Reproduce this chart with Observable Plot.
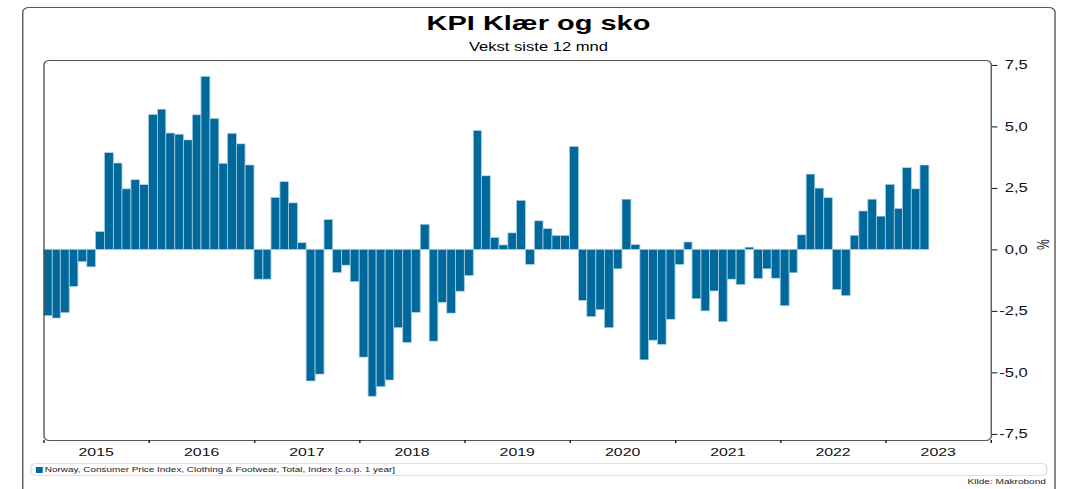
<!DOCTYPE html>
<html>
<head>
<meta charset="utf-8">
<script src="https://cdn.jsdelivr.net/npm/d3@7"></script>
<script src="https://cdn.jsdelivr.net/npm/@observablehq/plot@0.6"></script>
<style>
  html, body { margin: 0; padding: 0; background: #fff; overflow: hidden; }
  #wrap {
    position: relative; width: 772.5px; height: 489px;
    transform: scaleX(1.38); transform-origin: 0 0;
    font-family: "Liberation Sans", Arial, sans-serif; color: #000;
  }
  #outer {
    position: absolute; left: 15.7px; top: 6.5px; width: 749px; height: 600px;
    border: 1px solid #555; border-radius: 5px; box-sizing: border-box;
  }
  #title {
    position: absolute; left: 15.7px; width: 749px; top: 12.2px; text-align: center;
    font-weight: bold; font-size: 21px; line-height: 21px;
  }
  #subtitle {
    position: absolute; left: 15.7px; width: 749px; top: 40.8px; text-align: center;
    font-size: 12px; line-height: 12px;
  }
  #chart { position: absolute; left: 0; top: 0; }
  #legend {
    position: absolute; left: 21.7px; top: 463px; width: 737.7px; height: 13px;
    border: 1px solid #cfe6ef; border-radius: 4px; box-sizing: border-box;
    font-size: 7.2px; line-height: 11px; white-space: nowrap;
  }
  #legend .sw {
    position: absolute; left: 3.4px; top: 2.5px; width: 4.6px; height: 6.5px; background: #00689a;
  }
  #legend .lt { position: absolute; left: 9.8px; top: 0.3px; color: #222; }
  #source {
    position: absolute; right: 14.6px; top: 478px; font-size: 7.3px; line-height: 8px; color: #222;
  }
</style>
</head>
<body>
<div id="wrap">
  <div id="outer"></div>
  <div id="chart"></div>
  <div id="title">KPI Klær og sko</div>
  <div id="subtitle">Vekst siste 12 mnd</div>
  <div id="legend"><span class="sw"></span><span class="lt">Norway, Consumer Price Index, Clothing &amp; Footwear, Total, Index [c.o.p. 1 year]</span></div>
  <div id="source">Kilde: Makrobond</div>
</div>
<script>
// Monthly 12-month growth (%), Jan 2015 .. May 2023
const startYear = 2015;
const values = [
  -2.69, -2.79, -2.57, -1.50, -0.50, -0.71, 0.72, 3.93, 3.51, 2.46, 2.83, 2.63,   // 2015
  5.48, 5.70, 4.73, 4.68, 4.45, 5.47, 7.03, 5.32, 3.50, 4.72, 4.29, 3.43,         // 2016
  -1.21, -1.21, 2.11, 2.75, 1.89, 0.27, -5.35, -5.07, 1.21, -0.94, -0.64, -1.31,  // 2017
  -4.38, -5.97, -5.58, -5.31, -3.18, -3.78, -2.56, 1.02, -3.73, -2.15, -2.59, -1.70, // 2018
  -1.06, 4.83, 2.99, 0.48, 0.18, 0.67, 1.99, -0.61, 1.16, 0.84, 0.56, 0.56,       // 2019
  4.18, -2.07, -2.73, -2.45, -3.18, -0.79, 2.04, 0.19, -4.49, -3.69, -3.86, -2.84, // 2020
  -0.61, 0.30, -2.00, -2.50, -1.69, -2.94, -1.21, -1.43, 0.09, -1.18, -0.79, -1.17, // 2021
  -2.29, -0.95, 0.59, 3.06, 2.49, 2.10, -1.63, -1.88, 0.57, 1.56, 2.04, 1.35,     // 2022
  2.64, 1.66, 3.32, 2.46, 3.43                                                    // 2023
];
const yTicks = [-7.5, -5, -2.5, 0, 2.5, 5, 7.5];
const yearLabels = [2015, 2016, 2017, 2018, 2019, 2020, 2021, 2022, 2023];
const yearBoundaries = [2015, 2016, 2017, 2018, 2019, 2020, 2021, 2022, 2023, 2024];
const unitLabel = [{ y: 0, text: "%" }];

const data = values.map((v, i) => ({
  start: new Date(Date.UTC(startYear, i, 1)),
  end: new Date(Date.UTC(startYear, i + 1, 1)),
  value: v
}));
const yearStarts = yearBoundaries.map(y => new Date(Date.UTC(y, 0, 1)));
const yearMids = yearLabels.map(y => new Date(Date.UTC(y, 6, 1)));
const fmt = d => d.toFixed(1).replace(".", ",");

const chart = Plot.plot({
  width: 772.5,
  height: 489,
  marginLeft: 31.4,
  marginRight: 54.7,
  marginTop: 60,
  marginBottom: 49,
  style: { fontFamily: "'Liberation Sans', Arial, sans-serif", fontSize: "12px", background: "transparent", color: "#111" },
  x: { type: "utc", domain: [yearStarts[0], yearStarts[yearStarts.length - 1]], label: null },
  y: { domain: [-7.75, 7.70], label: null },
  marks: [
    Plot.rectY(data, { x1: "start", x2: "end", y: "value", fill: "#00689a", stroke: "#a3cde0", strokeWidth: 0.6 }),
    Plot.frame({ stroke: "#555", rx: 4 }),
    Plot.axisY(yTicks, { anchor: "right", tickSize: 4, tickPadding: 22.4, textAnchor: "end", tickFormat: fmt, fontSize: 12 }),
    Plot.axisX(yearStarts, { anchor: "bottom", tickSize: 3, tickFormat: () => "" }),
    Plot.axisX(yearMids, { anchor: "bottom", tickSize: 0, tickPadding: 7, tickFormat: d => String(d.getUTCFullYear()), fontSize: 11.5 }),
    Plot.text(unitLabel, { y: "y", text: "text", frameAnchor: "right", dx: 37.3, rotate: 90, fontSize: 12 })
  ]
});
document.getElementById("chart").appendChild(chart);
</script>
</body>
</html>
